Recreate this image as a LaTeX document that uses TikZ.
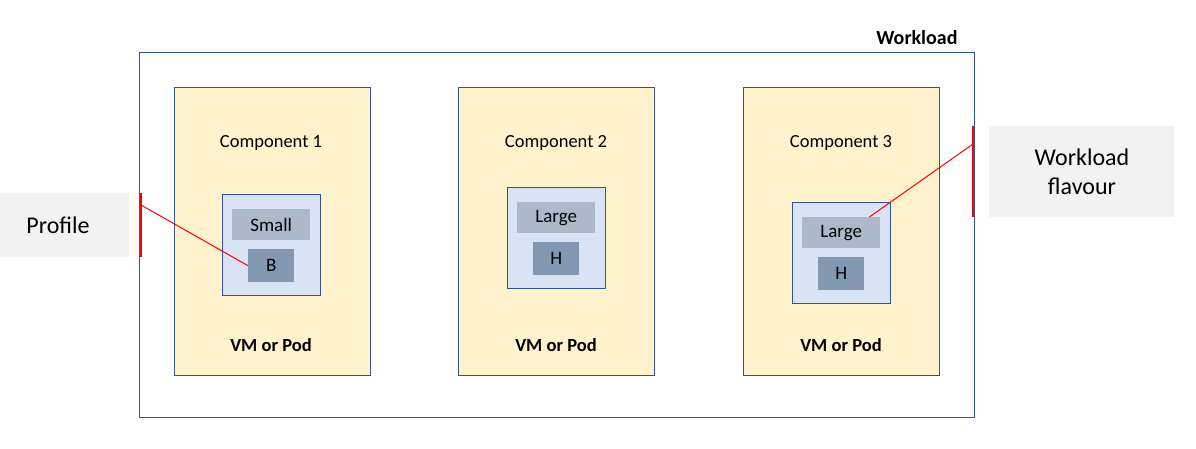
\documentclass[tikz,border=0pt]{standalone}
\usepackage{fontspec}
\setmainfont{Carlito}
\definecolor{bord}{HTML}{2F5597}
\definecolor{compfill}{HTML}{FFF2CC}
\definecolor{innerfill}{HTML}{DAE3F3}
\definecolor{lightslate}{HTML}{ADB9CA}
\definecolor{darkslate}{HTML}{8497B0}
\definecolor{callout}{HTML}{F2F2F2}
\definecolor{redline}{HTML}{FF0000}
\tikzset{
  box/.style={draw=bord, line width=0.8pt, inner sep=0pt, anchor=north west},
  comp/.style={box, fill=compfill, minimum width=196pt, minimum height=288pt},
  inner/.style={box, fill=innerfill, minimum width=98pt, minimum height=101pt},
  sizebox/.style={fill=lightslate, inner sep=0pt, anchor=north west, minimum width=78pt, minimum height=31pt, font=\fontsize{19}{22}\selectfont},
  hwbox/.style={fill=darkslate, inner sep=0pt, anchor=north west, minimum width=46pt, minimum height=33pt, font=\fontsize{19}{22}\selectfont},
  ctitle/.style={font=\fontsize{18.5}{22}\selectfont},
  vmtext/.style={font=\bfseries\fontsize{18.5}{22}\selectfont},
  calloutbox/.style={fill=callout, inner sep=0pt, anchor=north west},
  callouttext/.style={font=\fontsize{24}{29}\selectfont, align=center},
  redl/.style={draw=redline, line width=1pt},
  redbar/.style={draw=redline, line width=1.6pt},
}
\begin{document}
\begin{tikzpicture}[x=1pt,y=-1pt]
\useasboundingbox (0,0) rectangle (1196,449);
% workload
\node[box, minimum width=835pt, minimum height=365pt] (wl) at (139,52) {};
\node[anchor=east, font=\bfseries\fontsize{20}{24}\selectfont] (wllabel) at (961,38) {Workload};
% components
\node[comp] (c1) at (174,87) {};
\node[comp] (c2) at (458,87) {};
\node[comp] (c3) at (743,87) {};
\node[ctitle] (t1) at (271,143) {Component 1};
\node[ctitle] (t2) at (556,143) {Component 2};
\node[ctitle] (t3) at (841,143) {Component 3};
\node[vmtext] (v1) at (271,345) {VM or Pod};
\node[vmtext] (v2) at (556,345) {VM or Pod};
\node[vmtext] (v3) at (841,345) {VM or Pod};
% inner boxes
\node[inner] (i1) at (222,194) {};
\node[inner] (i2) at (507,187) {};
\node[inner] (i3) at (792,202) {};
\node[sizebox] (s1) at (232,209) {Small};
\node[hwbox] (b1) at (248,249) {B};
\node[sizebox] (s2) at (517,202) {Large};
\node[hwbox] (h2) at (533,242) {H};
\node[sizebox] (s3) at (802,217) {Large};
\node[hwbox] (h3) at (818,257) {H};
% callouts
\node[calloutbox, minimum width=129pt, minimum height=64pt] (prof) at (0,193) {};
\node[callouttext] (proftext) at (58,225) {Profile};
\node[calloutbox, minimum width=185pt, minimum height=91pt] (wf) at (989,126) {};
\node[callouttext] (wftext) at (1082,172) {Workload\\flavour};
% red connectors
\coordinate (pl1) at (141,193);
\coordinate (pl2) at (141,257);
\coordinate (pl) at (141,205);
\draw[redbar] (pl1) -- (pl2);
\draw[redl] (pl) -- (b1.west);
\coordinate (fl1) at (973,126);
\coordinate (fl2) at (973,217);
\coordinate (fl) at (973,144);
\coordinate (fe) at ([xshift=-11pt]s3.north east);
\draw[redbar] (fl1) -- (fl2);
\draw[redl] (fl) -- (fe);
\end{tikzpicture}
\end{document}
